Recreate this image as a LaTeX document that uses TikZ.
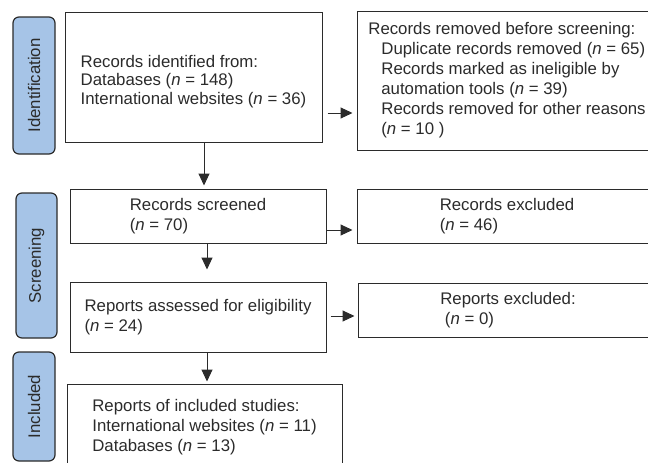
\documentclass[tikz,border=0pt]{standalone}
\usepackage{fontspec}
\setmainfont{Liberation Sans}
\usetikzlibrary{arrows.meta}
\definecolor{pillblue}{HTML}{A6C4E7}
\definecolor{linegrey}{HTML}{2B2B2B}
\begin{document}
\begin{tikzpicture}[x=1pt,y=-1pt,
    font=\fontsize{16.8}{20}\selectfont,
    every node/.style={text=linegrey},
    arr/.style={line width=1pt,linegrey,-{Triangle[length=12pt,width=11pt]}}]
\useasboundingbox (0,0) rectangle (648,463);
\begin{scope}[every node/.style={rounded corners=6pt,draw=linegrey,line width=1.2pt,fill=pillblue,rotate=90,inner sep=0pt,text=linegrey}]
    \node[minimum width=137pt,minimum height=42pt] (ident) at (34,85.5) {Identification};
    \node[minimum width=145pt,minimum height=41pt] (screen) at (36.5,265.5) {Screening};
    \node[minimum width=109pt,minimum height=42pt] (incl) at (34,406.5) {Included};
\end{scope}
\begin{scope}[every node/.style={draw=linegrey,line width=1pt,align=left,inner sep=0pt,text=linegrey}]
    \node[minimum width=257pt,minimum height=130pt] (recid) at (193.5,77) {\rule{0pt}{21pt}Records identified from:\\[-1.5pt]Databases (\textit{n} = 148)\\[-1.5pt]International websites (\textit{n} = 36)};
    \node[minimum width=300pt,minimum height=139pt] (recrm) at (507,80.5) {Records removed before screening:\\\hspace*{13pt}Duplicate records removed (\textit{n} = 65)\\\hspace*{13pt}Records marked as ineligible by\\\hspace*{13pt}automation tools (\textit{n} = 39)\\\hspace*{13pt}Records removed for other reasons\\\hspace*{13pt}(\textit{n} = 10 )};
    \node[minimum width=256pt,minimum height=54pt] (recscr) at (198,216) {Records screened\\(\textit{n} = 70)};
    \node[minimum width=300pt,minimum height=54pt] (recexc) at (507,216) {Records excluded\\(\textit{n} = 46)};
    \node[minimum width=256pt,minimum height=70pt] (repas) at (198,317) {Reports assessed for eligibility\\(\textit{n} = 24)};
    \node[minimum width=300pt,minimum height=54pt] (repexc) at (508,310) {Reports excluded:\\\ (\textit{n} = 0)};
    \node[minimum width=275pt,minimum height=86pt] (repinc) at (204.5,427) {Reports of included studies:\\International websites (\textit{n} = 11)\\Databases (\textit{n} = 13)};
\end{scope}
\draw[arr,shorten <=5pt,shorten >=4pt] ([yshift=-36pt]recid.east) -- ([yshift=-32.5pt]recrm.west);
\draw[arr,shorten >=3pt] ([xshift=10.5pt]recid.south) -- ([xshift=6pt]recscr.north);
\draw[arr,shorten >=4pt] ([yshift=-14pt]recscr.east) -- ([yshift=-14pt]recexc.west);
\draw[arr,shorten >=12pt] ([xshift=9pt]recscr.south) -- ([xshift=9pt]repas.north);
\draw[arr,shorten <=4pt,shorten >=3pt] ([yshift=1pt]repas.east) -- ([yshift=-6pt]repexc.west);
\draw[arr,shorten >=2pt] ([xshift=9pt]repas.south) -- ([xshift=2.5pt]repinc.north);
\end{tikzpicture}
\end{document}
